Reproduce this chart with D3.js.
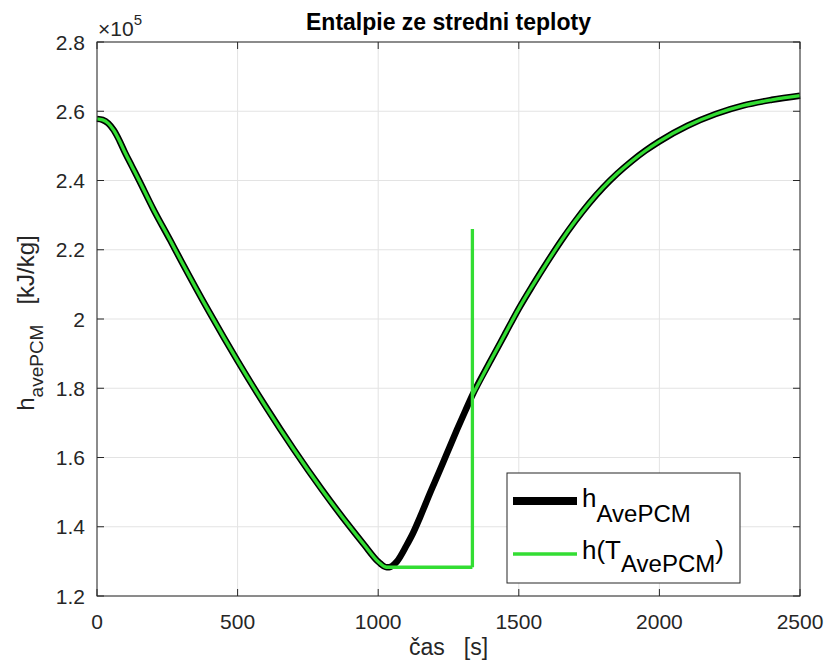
<!DOCTYPE html>
<html>
<head>
<meta charset="utf-8">
<script src="https://cdn.jsdelivr.net/npm/d3@7"></script>
<style>
  html, body { margin: 0; padding: 0; background: #fff; }
  svg { display: block; font-family: "Liberation Sans", Arial, Helvetica, sans-serif; }
</style>
</head>
<body>
<svg id="chart" width="827" height="662"></svg>
<script>
// time [s]
const time = [0, 20, 40, 60, 80, 100, 125, 150, 200, 260, 300, 400, 500, 600, 700, 800, 900, 950,
  1000, 1010, 1020, 1030, 1040, 1050, 1067, 1100, 1124, 1150, 1184, 1215, 1245, 1280, 1310, 1335,
  1400, 1450, 1500, 1550, 1600, 1650, 1700, 1750, 1800, 1850, 1900, 1950, 2000, 2100, 2200, 2300, 2400, 2500];

// average PCM enthalpy h_AvePCM [kJ/kg]
const hAvePCM = [257800, 257500, 256500, 254500, 251500, 248000, 244000, 240000, 231800, 222800, 216700,
  201900, 187900, 174700, 162300, 150700, 139900, 134800, 129900, 129200, 128600, 128300, 128300, 128700,
  130000, 134500, 138200, 143000, 149700, 155500, 161300, 168000, 173500, 178000, 188000, 195500, 203000,
  209800, 216300, 222500, 228200, 233400, 238000, 242000, 245500, 248600, 251300, 255800, 259200, 261700,
  263300, 264500];

// enthalpy evaluated from the average temperature h(T_AvePCM)
const timeT = [0, 20, 40, 60, 80, 100, 125, 150, 200, 260, 300, 400, 500, 600, 700, 800, 900, 950,
  1000, 1010, 1020, 1030, 1335, 1335, 1335,
  1400, 1450, 1500, 1550, 1600, 1650, 1700, 1750, 1800, 1850, 1900, 1950, 2000, 2100, 2200, 2300, 2400, 2500];
const hTAvePCM = [257800, 257500, 256500, 254500, 251500, 248000, 244000, 240000, 231800, 222800, 216700,
  201900, 187900, 174700, 162300, 150700, 139900, 134800, 129900, 129200, 128600, 128300, 128300, 226000, 178000,
  188000, 195500, 203000, 209800, 216300, 222500, 228200, 233400, 238000, 242000, 245500, 248600, 251300,
  255800, 259200, 261700, 263300, 264500];

const xTicks = [0, 500, 1000, 1500, 2000, 2500];
const yTicks = [120000, 140000, 160000, 180000, 200000, 220000, 240000, 260000, 280000];
const yTickLabels = ["1.2", "1.4", "1.6", "1.8", "2", "2.2", "2.4", "2.6", "2.8"];

const titleText = "Entalpie ze stredni teploty";
const xLabelText = "čas   [s]";

const margin = { left: 97, right: 27, top: 42, bottom: 66 };
const W = 827, H = 662;
const iw = W - margin.left - margin.right;
const ih = H - margin.top - margin.bottom;

const svg = d3.select("#chart");
const ink = "#262626";
const green = "#33dd33";

const x = d3.scaleLinear().domain([0, 2500]).range([margin.left, margin.left + iw]);
const y = d3.scaleLinear().domain([120000, 280000]).range([margin.top + ih, margin.top]);

// grid
const grid = svg.append("g");
grid.selectAll("line.gx").data(xTicks).join("line")
  .attr("x1", d => x(d)).attr("x2", d => x(d))
  .attr("y1", margin.top).attr("y2", margin.top + ih)
  .attr("stroke", "#e3e3e3").attr("stroke-width", 1);
grid.selectAll("line.gy").data(yTicks).join("line")
  .attr("y1", d => y(d)).attr("y2", d => y(d))
  .attr("x1", margin.left).attr("x2", margin.left + iw)
  .attr("stroke", "#e3e3e3").attr("stroke-width", 1);

// split a series into smooth runs and vertical jumps
function pieces(ts, vs) {
  const pts = ts.map((t, i) => [t, vs[i]]);
  const out = [];
  let cur = [pts[0]];
  for (let i = 1; i < pts.length; i++) {
    if (pts[i][0] === pts[i - 1][0]) {
      if (cur.length > 1) out.push({ pts: cur, smooth: true });
      const v = [pts[i - 1]];
      while (i < pts.length && pts[i][0] === pts[i - 1][0]) { v.push(pts[i]); i++; }
      out.push({ pts: v, smooth: false });
      cur = [v[v.length - 1]];
      i--;
    } else {
      cur.push(pts[i]);
    }
  }
  if (cur.length > 1) out.push({ pts: cur, smooth: true });
  return out;
}

const smoothLine = d3.line().x(d => x(d[0])).y(d => y(d[1])).curve(d3.curveMonotoneX);
const straightLine = d3.line().x(d => x(d[0])).y(d => y(d[1]));

const plot = svg.append("g");
plot.selectAll("path.black").data(pieces(time, hAvePCM)).join("path")
  .attr("d", d => (d.smooth ? smoothLine : straightLine)(d.pts))
  .attr("fill", "none").attr("stroke", "#000").attr("stroke-width", 6.5)
  .attr("stroke-linejoin", "round").attr("stroke-linecap", "butt");
plot.selectAll("path.green").data(pieces(timeT, hTAvePCM)).join("path")
  .attr("d", d => (d.smooth ? smoothLine : straightLine)(d.pts))
  .attr("fill", "none").attr("stroke", green).attr("stroke-width", 3.3)
  .attr("stroke-linejoin", "miter").attr("stroke-linecap", "butt");

// axes box with inward ticks on all sides
const axes = svg.append("g").attr("stroke", ink).attr("stroke-width", 1);
axes.append("rect").attr("x", margin.left).attr("y", margin.top)
  .attr("width", iw).attr("height", ih).attr("fill", "none");
const tl = 7;
xTicks.forEach(t => {
  axes.append("line").attr("x1", x(t)).attr("x2", x(t)).attr("y1", margin.top + ih).attr("y2", margin.top + ih - tl);
  axes.append("line").attr("x1", x(t)).attr("x2", x(t)).attr("y1", margin.top).attr("y2", margin.top + tl);
});
yTicks.forEach(v => {
  axes.append("line").attr("y1", y(v)).attr("y2", y(v)).attr("x1", margin.left).attr("x2", margin.left + tl);
  axes.append("line").attr("y1", y(v)).attr("y2", y(v)).attr("x1", margin.left + iw).attr("x2", margin.left + iw - tl);
});

// tick labels
svg.append("g").selectAll("text").data(xTicks).join("text")
  .attr("x", d => x(d)).attr("y", margin.top + ih + 33)
  .attr("text-anchor", "middle").attr("font-size", 21).attr("fill", ink)
  .text(d => d);
svg.append("g").selectAll("text").data(yTicks).join("text")
  .attr("x", margin.left - 12).attr("y", d => y(d) + 7.5)
  .attr("text-anchor", "end").attr("font-size", 21).attr("fill", ink)
  .text((d, i) => yTickLabels[i]);

// exponent
const ex = svg.append("text").attr("x", margin.left + 1).attr("y", 36).attr("fill", ink).attr("font-size", 21);
ex.append("tspan").text("×10");
ex.append("tspan").attr("dy", -11).attr("font-size", 15).text("5");

// title
svg.append("text").attr("x", margin.left + iw / 2).attr("y", 30)
  .attr("text-anchor", "middle").attr("font-size", 23).attr("font-weight", "bold").attr("fill", "#000")
  .text(titleText);

// x label
svg.append("text").attr("x", margin.left + iw / 2).attr("y", 655)
  .attr("text-anchor", "middle").attr("font-size", 23).attr("fill", ink)
  .style("white-space", "pre")
  .text(xLabelText);

// y label
const yl = svg.append("text")
  .attr("transform", `translate(34, ${margin.top + ih / 2 + 4}) rotate(-90)`)
  .attr("text-anchor", "middle").attr("font-size", 24).attr("fill", ink)
  .style("white-space", "pre");
yl.append("tspan").text("h");
yl.append("tspan").attr("dy", 9).attr("font-size", 19).text("avePCM");
yl.append("tspan").attr("dy", -9).text("   [kJ/kg]");

// legend
const lg = svg.append("g");
lg.append("rect").attr("x", 507).attr("y", 473).attr("width", 233).attr("height", 110)
  .attr("fill", "#fff").attr("stroke", ink).attr("stroke-width", 1);
lg.append("line").attr("x1", 513).attr("x2", 577).attr("y1", 501).attr("y2", 501)
  .attr("stroke", "#000").attr("stroke-width", 8);
lg.append("line").attr("x1", 513).attr("x2", 577).attr("y1", 554).attr("y2", 554)
  .attr("stroke", green).attr("stroke-width", 3.5);
const t1 = lg.append("text").attr("x", 582).attr("y", 507).attr("font-size", 26).attr("fill", "#000");
t1.append("tspan").text("h");
t1.append("tspan").attr("dy", 15).attr("font-size", 24).text("AvePCM");
const t2 = lg.append("text").attr("x", 582).attr("y", 559).attr("font-size", 26).attr("fill", "#000");
t2.append("tspan").text("h(T");
t2.append("tspan").attr("dy", 13).attr("font-size", 24).text("AvePCM");
t2.append("tspan").attr("dy", -13).text(")");
</script>
</body>
</html>
